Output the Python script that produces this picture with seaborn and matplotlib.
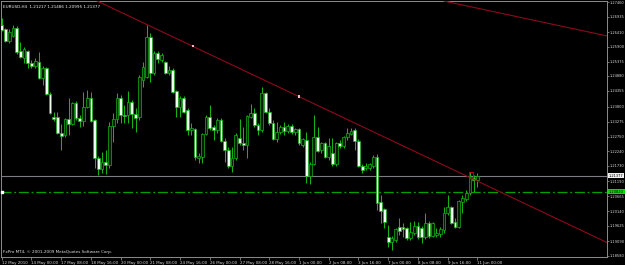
import numpy as np
import pandas as pd
import matplotlib
matplotlib.use("Agg")
import matplotlib.pyplot as plt
import matplotlib.transforms as mtransforms
import seaborn as sns

# ---------------- data (EURUSD H4) ----------------
opens = [1.26655, 1.26515, 1.26095, 1.2627, 1.2655, 1.25745, 1.255, 1.25745, 1.25325, 1.2522,
         1.2536, 1.248, 1.2515, 1.2424, 1.23435, 1.23435, 1.22875, 1.22805, 1.23365, 1.2319,
         1.23925, 1.234, 1.23295, 1.23785, 1.241, 1.2333, 1.22, 1.21615, 1.2186, 1.21755,
         1.2312, 1.23365, 1.241, 1.23505, 1.23505, 1.2396, 1.2354, 1.23435, 1.2473, 1.24835,
         1.26235, 1.24975, 1.25675, 1.2543, 1.2536, 1.24975, 1.2508, 1.24345, 1.23785, 1.241,
         1.2368, 1.2298, 1.23015, 1.22, 1.22035, 1.2284, 1.23435, 1.23085, 1.2298, 1.2333,
         1.22595, 1.2228, 1.2172, 1.22, 1.227, 1.22525, 1.22455, 1.23435, 1.23575, 1.23155,
         1.2298, 1.24275, 1.2361, 1.23225, 1.22665, 1.2291, 1.23085, 1.22945, 1.2312, 1.2291,
         1.23015, 1.22455, 1.2263, 1.2137, 1.2179, 1.22735, 1.2228, 1.22525, 1.22035, 1.22175,
         1.2179, 1.22525, 1.2242, 1.22735, 1.2284, 1.2298, 1.22595, 1.2172, 1.2165, 1.2165,
         1.2172, 1.22035, 1.2046, 1.20215, 1.19235, 1.1906, 1.1913, 1.19585, 1.19585, 1.1955,
         1.192, 1.19375, 1.1962, 1.1955, 1.19235, 1.19725, 1.1927, 1.19305, 1.1934, 1.1948,
         1.20075, 1.20285, 1.1976, 1.19585, 1.2046, 1.20565, 1.20775, 1.213, 1.21217]
highs = [1.2690, 1.2655, 1.26515, 1.26655, 1.2662, 1.2606, 1.25885, 1.2578, 1.2543, 1.255,
         1.2571, 1.2522, 1.25185, 1.2431, 1.2361, 1.2361, 1.2319, 1.234, 1.241, 1.2396,
         1.23995, 1.23505, 1.2431, 1.2438, 1.2431, 1.23365, 1.2207, 1.2221, 1.2228, 1.2326,
         1.23575, 1.24275, 1.24205, 1.23855, 1.24345, 1.2403, 1.2375, 1.24905, 1.2536, 1.26655,
         1.26375, 1.25745, 1.25745, 1.25675, 1.25395, 1.2522, 1.2515, 1.2438, 1.2417, 1.2417,
         1.2375, 1.23225, 1.2305, 1.22175, 1.22875, 1.23505, 1.23855, 1.23155, 1.234, 1.234,
         1.227, 1.22385, 1.22385, 1.22875, 1.23365, 1.23085, 1.23505, 1.2389, 1.2375, 1.23225,
         1.24485, 1.2431, 1.2375, 1.2333, 1.2326, 1.23155, 1.2326, 1.2319, 1.2319, 1.2305,
         1.2305, 1.227, 1.2291, 1.2186, 1.23505, 1.23085, 1.2256, 1.2256, 1.227, 1.227,
         1.2256, 1.2263, 1.2277, 1.2305, 1.2305, 1.2305, 1.22665, 1.2179, 1.21825, 1.21825,
         1.22105, 1.2214, 1.20705, 1.2025, 1.19655, 1.1927, 1.1955, 1.199, 1.19725, 1.19585,
         1.1976, 1.19795, 1.1976, 1.1962, 1.20075, 1.19795, 1.1976, 1.1955, 1.19585, 1.20285,
         1.20705, 1.2032, 1.199, 1.2053, 1.20705, 1.2088, 1.2151, 1.21405, 1.21486]
lows = [1.26445, 1.2606, 1.26025, 1.26235, 1.2564, 1.255, 1.25325, 1.2515, 1.2515, 1.2515,
        1.24765, 1.24555, 1.24205, 1.2354, 1.23295, 1.2284, 1.2228, 1.22735, 1.22805, 1.23155,
        1.2333, 1.23085, 1.2312, 1.2375, 1.2326, 1.2165, 1.21405, 1.21475, 1.2144, 1.2165,
        1.2256, 1.23225, 1.23225, 1.23225, 1.23225, 1.2305, 1.2291, 1.2333, 1.24485, 1.248,
        1.2466, 1.24905, 1.25325, 1.2536, 1.2494, 1.24905, 1.24275, 1.23435, 1.23435, 1.23575,
        1.22805, 1.22805, 1.2193, 1.21825, 1.21825, 1.22805, 1.2298, 1.2263, 1.22875, 1.2256,
        1.2186, 1.2165, 1.2151, 1.2193, 1.22455, 1.2228, 1.22, 1.234, 1.23085, 1.22805,
        1.2291, 1.23575, 1.23155, 1.2263, 1.2256, 1.2284, 1.22805, 1.22875, 1.2284, 1.22805,
        1.22455, 1.22385, 1.21125, 1.2109, 1.21755, 1.2221, 1.22175, 1.22, 1.2193, 1.2172,
        1.2172, 1.2235, 1.2235, 1.2263, 1.22805, 1.2228, 1.21685, 1.21475, 1.2158, 1.2158,
        1.2165, 1.2018, 1.19725, 1.1955, 1.18885, 1.1878, 1.1906, 1.19305, 1.19235, 1.1913,
        1.1913, 1.19305, 1.19165, 1.19025, 1.19165, 1.192, 1.19235, 1.19235, 1.19235, 1.19375,
        1.20005, 1.1969, 1.1955, 1.1955, 1.20075, 1.20495, 1.20705, 1.2081, 1.20995]
closes = [1.2648, 1.26095, 1.2641, 1.2655, 1.2571, 1.25535, 1.25815, 1.25325, 1.2522, 1.25395,
          1.248, 1.2515, 1.2424, 1.23575, 1.23365, 1.22875, 1.2277, 1.23365, 1.2319, 1.23925,
          1.234, 1.23295, 1.23785, 1.241, 1.23295, 1.22, 1.21615, 1.2186, 1.21755, 1.2312,
          1.23365, 1.241, 1.23505, 1.2347, 1.2396, 1.2354, 1.234, 1.24835, 1.25185, 1.26235,
          1.24975, 1.25675, 1.25465, 1.25605, 1.24975, 1.2508, 1.2431, 1.23785, 1.241, 1.2361,
          1.2298, 1.2305, 1.22035, 1.2207, 1.2284, 1.23435, 1.2305, 1.2298, 1.2333, 1.22595,
          1.2228, 1.2172, 1.22, 1.22805, 1.22525, 1.22455, 1.2347, 1.23575, 1.23155, 1.2298,
          1.24275, 1.2361, 1.23225, 1.22665, 1.2291, 1.23085, 1.22945, 1.2312, 1.2291, 1.23015,
          1.22525, 1.22665, 1.2137, 1.2179, 1.22735, 1.22245, 1.22525, 1.22035, 1.2242, 1.2179,
          1.22525, 1.2242, 1.22735, 1.22875, 1.22945, 1.22595, 1.2172, 1.2158, 1.2172, 1.2179,
          1.22035, 1.20425, 1.20145, 1.1976, 1.1906, 1.192, 1.19515, 1.19445, 1.19515, 1.192,
          1.1941, 1.1962, 1.19235, 1.19235, 1.19725, 1.1927, 1.19725, 1.19375, 1.19515, 1.20075,
          1.20285, 1.19725, 1.19585, 1.20495, 1.206, 1.20775, 1.213, 1.21215, 1.21377]

date_tick_bars = [0, 8, 16, 24, 32, 40, 48, 56, 64, 72, 80, 88, 96, 104, 112, 120, 128]
date_tick_labels = ["12 May 2010", "14 May 00:00", "17 May 08:00", "18 May 16:00", "20 May 00:00",
                    "21 May 08:00", "24 May 16:00", "26 May 00:00", "27 May 08:00", "28 May 16:00",
                    "1 Jun 00:00", "2 Jun 08:00", "3 Jun 16:00", "7 Jun 00:00", "8 Jun 08:00",
                    "9 Jun 16:00", "11 Jun 00:00"]
price_ticks = [1.27460, 1.26935, 1.26410, 1.25900, 1.25375, 1.24880, 1.24355, 1.23800, 1.23275,
               1.22750, 1.22240, 1.21730, 1.21190, 1.20665, 1.20140, 1.19625, 1.19090, 1.18580]

bid_price = 1.21377
level_price = 1.20820
trend_bars = [51.4, 80.0]
trend_prices = [1.25911, 1.24149]
trend2_bars = [126.0, 163.0]
trend2_prices = [1.27300, 1.26270]
mark_bars = [126.3]
mark_prices = [1.21423]

header = "EURUSD,H4  1.21217 1.21486 1.20995 1.21377"
footer = "FxPro MT4, \u00a9 2001-2009 MetaQuotes Software Corp."

# ---------------- style ----------------
sns.set_theme(style="dark", rc={"axes.facecolor": "black", "figure.facecolor": "black",
                                "axes.edgecolor": "#8c8c8c", "axes.grid": False})
plt.rcParams['font.family'] = ['DejaVu Sans']

df = pd.DataFrame({"bar": np.arange(len(opens)), "open": opens, "high": highs,
                   "low": lows, "close": closes})
df["lo"] = df[["open", "close"]].min(axis=1)
df["h"] = (df["close"] - df["open"]).abs().clip(lower=0.00006)
bull = df["close"] >= df["open"]

fig = plt.figure(figsize=(6.25, 2.65), dpi=100, facecolor="black")
ax = fig.add_axes([1 / 625, 8 / 265, 606 / 625, 256 / 265])
ax.set_facecolor("black")
ax.grid(False)

GREEN = "#14b414"
ax.vlines(df["bar"], df["low"], df["high"], color=GREEN, lw=0.75, zorder=2)
ax.bar(df.loc[bull, "bar"], df.loc[bull, "h"], bottom=df.loc[bull, "lo"], width=0.74,
       color="#041c04", edgecolor=GREEN, linewidth=0.5, zorder=3)
ax.bar(df.loc[~bull, "bar"], df.loc[~bull, "h"], bottom=df.loc[~bull, "lo"], width=0.74,
       color="#effff0", edgecolor=GREEN, linewidth=0.5, zorder=3)

# horizontal lines
ax.axhline(bid_price, color="#7c7c84", lw=0.8, zorder=1)
ax.axhline(level_price, color="#00a000", lw=0.9, linestyle=(0, (8, 2.2, 1.5, 2.2)), zorder=1)

# trend lines
ax.axline((trend_bars[0], trend_prices[0]), (trend_bars[1], trend_prices[1]),
          color="#8e0a1c", lw=0.8, zorder=4)
ax.axline((trend2_bars[0], trend2_prices[0]), (trend2_bars[1], trend2_prices[1]),
          color="#8e0a1c", lw=0.8, zorder=4)
anchors = pd.DataFrame({"bar": trend_bars, "price": trend_prices})
sns.scatterplot(data=anchors, x="bar", y="price", marker="s", s=3, color="#ffb6c8",
                edgecolor="none", ax=ax, zorder=5)
marks = pd.DataFrame({"bar": mark_bars, "price": mark_prices})
sns.scatterplot(data=marks, x="bar", y="price", marker="s", s=9, facecolor="none",
                edgecolor="#e00000", linewidth=0.6, ax=ax, zorder=6)

ax.set_xlim(-0.2, 162.9)
ax.set_ylim(1.18535, 1.27495)
ax.set_xlabel("")
ax.set_ylabel("")

# axes ticks
LBL = 2.65
ax.yaxis.tick_right()
ax.set_yticks(price_ticks)
ax.set_yticklabels([f"{v:.5f}" for v in price_ticks])
ax.tick_params(axis="y", length=1.5, width=0.5, color="#a0a0a0", labelsize=LBL,
               labelcolor="#d8d8d8", pad=0.4, direction="out", right=True, left=False)
ax.set_xticks(date_tick_bars)
ax.set_xticklabels(date_tick_labels, ha="left")
ax.tick_params(axis="x", length=2, width=0.5, color="#a0a0a0", labelsize=2.9,
               labelcolor="#d8d8d8", pad=1, direction="out", bottom=True)
for s in ax.spines.values():
    s.set_visible(True)
    s.set_color("#8c8c8c")
    s.set_linewidth(0.7)

trans = mtransforms.blended_transform_factory(ax.transAxes, ax.transData)
ax.text(1.0035, bid_price, f"{bid_price:.5f}", transform=trans, va="center", ha="left",
        fontsize=LBL, color="black", clip_on=False, zorder=10,
        bbox=dict(facecolor="#f0f0f0", edgecolor="none", pad=0.5))
ax.text(1.0035, level_price, f"{level_price:.5f}", transform=trans, va="center", ha="left",
        fontsize=LBL, color="black", clip_on=False, zorder=10,
        bbox=dict(facecolor="#00e000", edgecolor="none", pad=0.5))
ax.scatter([0.0], [level_price], marker="s", s=2, color="white", zorder=6, clip_on=False)

ax.text(0.004, 0.985, header, transform=ax.transAxes, va="top", ha="left",
        fontsize=3, color="#f0f0f0")
ax.text(0.004, 0.012, footer, transform=ax.transAxes, va="bottom", ha="left",
        fontsize=3, color="#e0e0e0")

fig.savefig("out.png", dpi=100, facecolor="black")
